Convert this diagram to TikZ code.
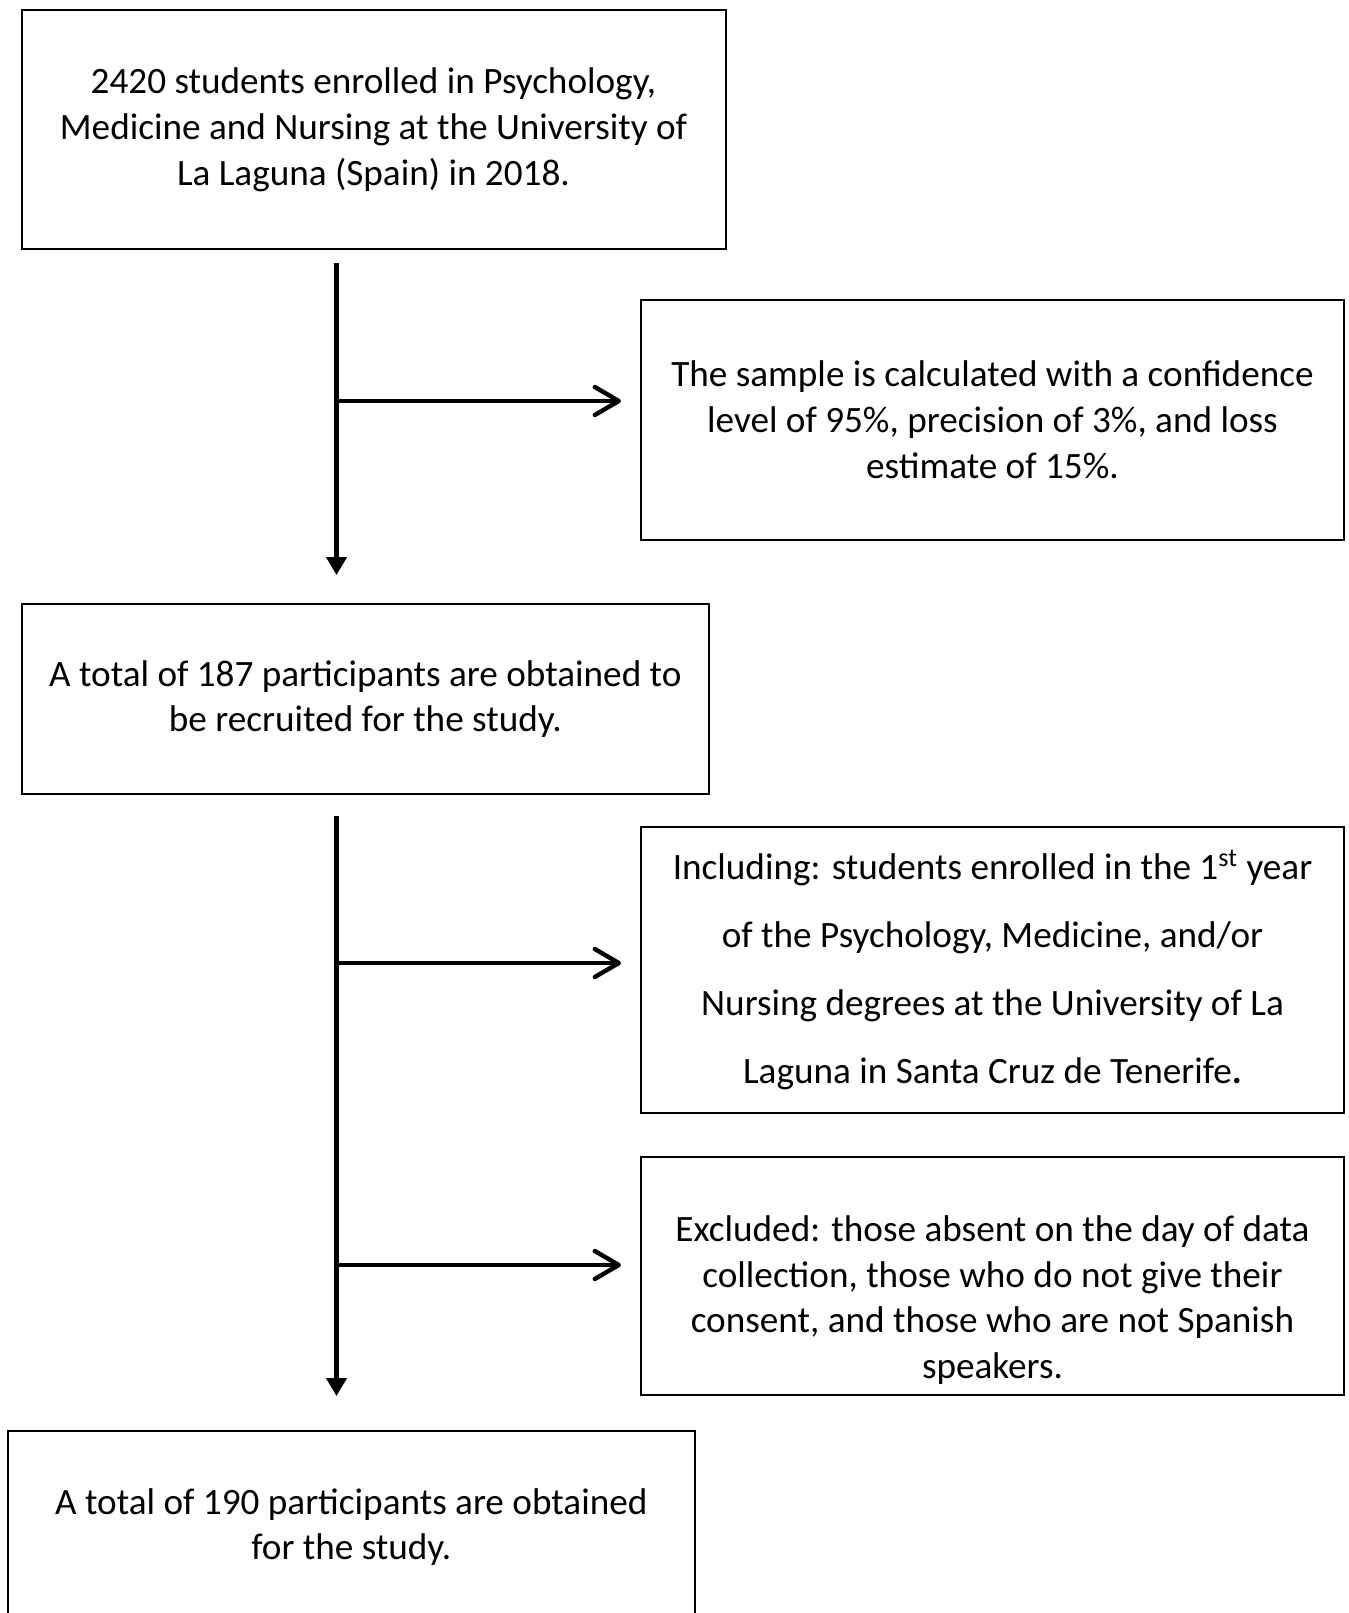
\documentclass[tikz,border=0pt]{standalone}
\usepackage{fontspec}
\setmainfont{Carlito}
\usetikzlibrary{arrows.meta,calc}

\begin{document}
\begin{tikzpicture}[x=0.5pt,y=-0.5pt,
    box/.style={draw,line width=1pt,align=center,inner sep=0pt,font=\fontsize{18.6}{22.9}\selectfont},
    trunk/.style={line width=2.2pt,-{Triangle[width=10pt,length=9pt]}},
    branch/.style={line width=2.2pt,-{Straight Barb[length=12pt,width=14pt,round]},shorten >=9.5pt}]
              \useasboundingbox (0,0) rectangle (1349,1613);
              \clip (0,0) rectangle (1349,1613);
              % Boxes on the left
              \node[box,minimum width=352pt,minimum height=119.4pt] (enrolled) at (373.5,129.7) {2420 students enrolled in Psychology,\\ Medicine and Nursing at the University of\\ La Laguna (Spain) in 2018.};
              \node[box,minimum width=343.7pt,minimum height=95.3pt] (recruit) at (365.3,699) {A total of 187 participants are obtained to\\ be recruited for the study.};
              \node[box,minimum width=343.3pt,minimum height=96pt] (final) at (351.3,1527) {A total of 190 participants are obtained\\ for the study.};
              % Boxes on the right
              \node[box,minimum width=351.5pt,minimum height=119.8pt] (sample) at (992.5,420) {The sample is calculated with a confidence\\ level of 95\%, precision of 3\%, and loss\\ estimate of 15\%.};
              \node[box,minimum width=351.5pt,minimum height=143.3pt,font=\fontsize{18.6}{34}\selectfont] (incl) at (992.5,970) {Including: students enrolled in the 1\textsuperscript{st} year\\ of the Psychology, Medicine, and/or\\ Nursing degrees at the University of La\\ Laguna in Santa Cruz de Tenerife\textbf{.}};
              \node[box,minimum width=351.5pt,minimum height=119.2pt] (excl) at (992.5,1276) {\mbox{}\\[14pt] Excluded: those absent on the day of data\\ collection, those who do not give their\\ consent, and those who are not Spanish\\ speakers.};
              % Trunk lines and their branches
              \coordinate (top1) at (336.5,263);
              \coordinate (end1) at (336.5,575);
              \coordinate (fork1) at (336.5,401);
              \coordinate (top2) at (336.5,816);
              \coordinate (end2) at (336.5,1396);
              \coordinate (fork2) at (336.5,963);
              \coordinate (fork3) at (336.5,1265);
              \draw[trunk] (top1) -- (end1);
              \draw[trunk] (top2) -- (end2);
              \draw[branch] (fork1) -- (fork1 -| sample.west);
              \draw[branch] (fork2) -- (fork2 -| incl.west);
              \draw[branch] (fork3) -- (fork3 -| excl.west);
            \end{tikzpicture}
\end{document}
